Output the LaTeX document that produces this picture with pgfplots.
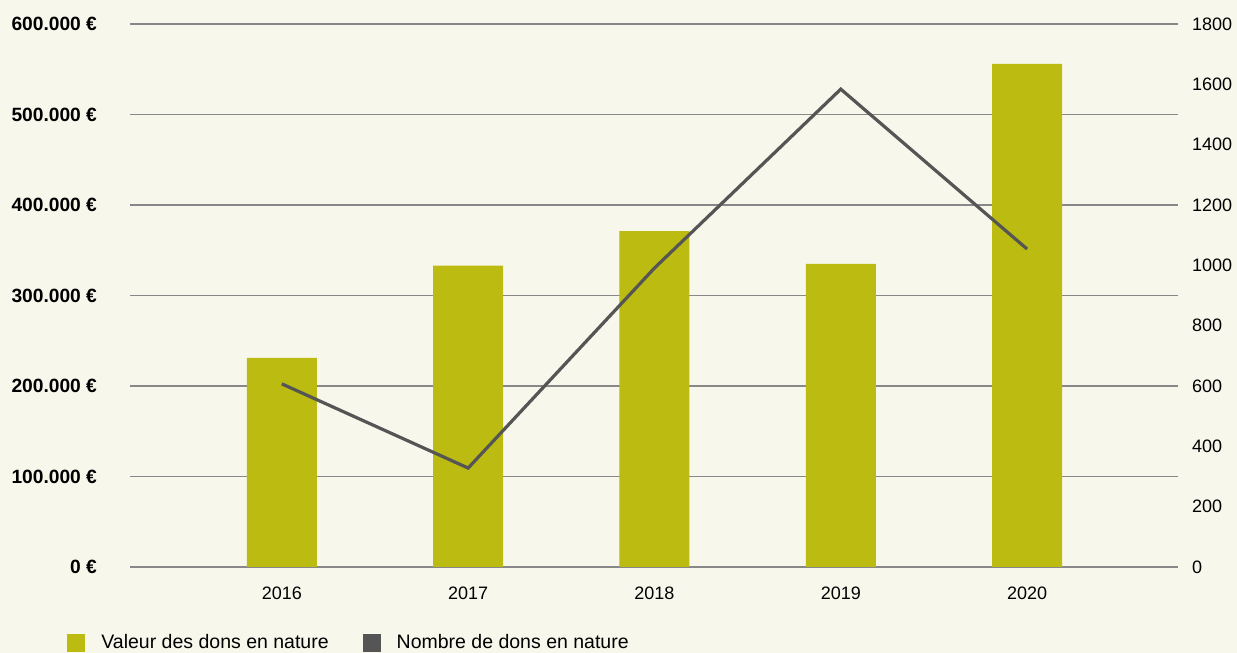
\documentclass[border=0pt]{standalone}
\usepackage{pgfplots}
\pgfplotsset{compat=1.18}
\usepackage{fontspec}
\setmainfont{Liberation Sans}
\definecolor{bg}{HTML}{F8F7EC}
\definecolor{olive}{HTML}{BBBB11}
\definecolor{dgray}{HTML}{555555}
\definecolor{gridc}{HTML}{888888}
\begin{document}
\begin{tikzpicture}
\useasboundingbox (0,0) rectangle (618.5pt,326.5pt);
\fill[bg] (0,0) rectangle (618.5pt,326.5pt);
\begin{axis}[
  at={(65pt,43pt)}, anchor=south west,
  scale only axis, width=524pt, height=271.5pt,
  xmin=-0.815, xmax=4.81, ymin=0, ymax=600000,
  axis line style={draw=none}, major tick length=0pt,
  ytick={0,100000,200000,300000,400000,500000,600000},
  yticklabels={0 €,100.000 €,200.000 €,300.000 €,400.000 €,500.000 €,600.000 €},
  scaled y ticks=false,
  ymajorgrids, grid style={gridc, line width=0.65pt},
  xtick={0,1,2,3,4}, xticklabels={2016,2017,2018,2019,2020},
  xticklabel style={font=\fontsize{9}{11}\selectfont, yshift=-6.5pt},
  yticklabel style={font=\bfseries\fontsize{9.6}{11}\selectfont, xshift=-13pt},
  ybar, bar width=35pt,
]
\addplot[fill=olive, draw=none] coordinates {(0,231000) (1,333000) (2,371000) (3,335000) (4,556000)};
\end{axis}
\begin{axis}[
  at={(65pt,43pt)}, anchor=south west,
  scale only axis, width=524pt, height=271.5pt,
  xmin=-0.815, xmax=4.81, ymin=0, ymax=1800,
  axis line style={draw=none}, major tick length=0pt,
  xtick=\empty,
  ytick={0,200,...,1800}, yticklabel pos=right,
  /pgf/number format/assume math mode=true,
  yticklabel style={font=\fontsize{9}{11}\selectfont, xshift=3.5pt, /pgf/number format/1000 sep={}},
  legend columns=-1,
  legend style={draw=none, fill=none, at={(-0.0601,-0.14)}, anchor=west, inner sep=0pt,
    font=\fontsize{9.75}{11}\selectfont,
    nodes={inner sep=0pt},
    /tikz/every odd column/.append style={column sep=8pt},
    /tikz/every even column/.append style={column sep=17pt}},
  legend image code/.code={\fill[#1] (0pt,-4.5pt) rectangle (9pt,4.5pt);},
]
\addlegendimage{fill=olive, draw=none}
\addlegendentry{Valeur des dons en nature}
\addlegendimage{fill=dgray, draw=none}
\addlegendentry{Nombre de dons en nature}
\addplot[dgray, line width=1.6pt, forget plot] coordinates {(0,607) (1,328) (2,991) (3,1584) (4,1054)};
\end{axis}
\end{tikzpicture}
\end{document}
